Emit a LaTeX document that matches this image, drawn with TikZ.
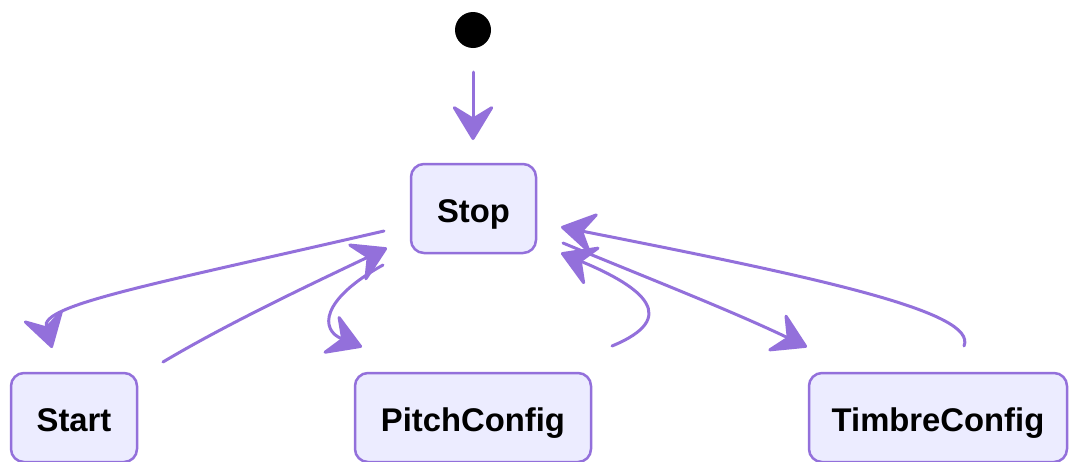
\documentclass[tikz,border=0pt]{standalone}
\usepackage{fontspec}
\setmainfont{Liberation Sans}
\usetikzlibrary{arrows.meta}
\definecolor{edgec}{HTML}{9370DB}
\definecolor{boxfill}{HTML}{ECECFF}
\begin{document}
\begin{tikzpicture}[x=1pt,y=-1pt,
  state/.style={draw=edgec, fill=boxfill, line width=2.5pt, rounded corners=13pt,
    font=\fontsize{32.8}{38}\selectfont\bfseries, inner sep=0pt,
    text height=27pt, text depth=0pt, minimum height=89pt},
  tr/.style={draw=edgec, line width=3pt, line cap=round,
    -{Stealth[length=38pt,width=46pt,inset=14pt,round=false]}}]
\useasboundingbox (0,0) rectangle (1070,461);
% nodes
\node[circle, fill=black, minimum size=36pt, inner sep=0pt] (init) at (473,30) {};
\node[state, minimum width=125pt] (stop) at (473.5,208.5) {Stop};
\node[state, minimum width=126pt] (start) at (74,417.5) {Start};
\node[state, minimum width=236pt] (pitch) at (473,417.5) {PitchConfig};
\node[state, minimum width=258pt] (timbre) at (938,417.5) {TimbreConfig};
% endpoints
\coordinate (i0) at (473,72);
\coordinate (i1) at (473,140);
\coordinate (a0) at (384,231);  \coordinate (a1) at (52,348);
\coordinate (b0) at (163,362);  \coordinate (b1) at (387,248);
\coordinate (c0) at (383,265);  \coordinate (c1) at (362,347);
\coordinate (d0) at (612,346);  \coordinate (d1) at (561,253);
\coordinate (e0) at (563,243);  \coordinate (e1) at (807,347);
\coordinate (f0) at (964,346);  \coordinate (f1) at (561,227);
% edges
\draw[tr] (i0) -- (i1);
\draw[tr] (a0) .. controls (150,285) and (40,305) .. (a1);
\draw[tr] (b0) .. controls (230,322) and (320,280) .. (b1);
\draw[tr] (c0) .. controls (320,300) and (320,330) .. (c1);
\draw[tr] (d0) .. controls (680,318) and (645,288) .. (d1);
\draw[tr] (e0) .. controls (640,275) and (730,310) .. (e1);
\draw[tr] (f0) .. controls (978,312) and (820,278) .. (f1);
\end{tikzpicture}
\end{document}
